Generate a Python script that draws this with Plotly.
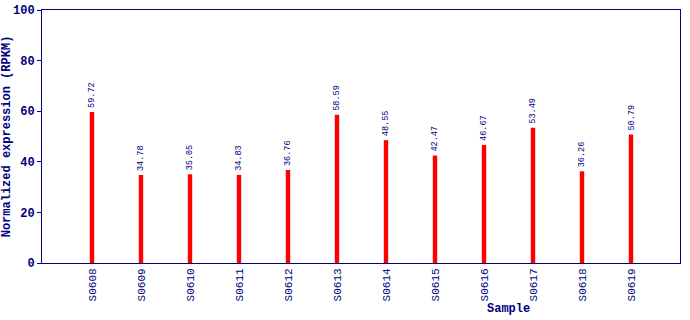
import plotly.graph_objects as go

samples = ["S0608", "S0609", "S0610", "S0611", "S0612", "S0613",
           "S0614", "S0615", "S0616", "S0617", "S0618", "S0619"]
values = [59.72, 34.78, 35.05, 34.83, 36.76, 58.59,
          48.55, 42.47, 46.67, 53.49, 36.26, 50.79]
labels = [f"{v:.2f}" for v in values]

navy = "#000080"
mono = "Liberation Mono, DejaVu Sans Mono, monospace"

xs = list(range(len(samples)))

fig = go.Figure(go.Bar(
    x=xs, y=values, width=0.09,
    marker=dict(color="#ff0000", line=dict(width=0)),
    hoverinfo="x+y",
))

annotations = [
    dict(x=x, y=v, xref="x", yref="y", text=t, showarrow=False,
         textangle=-90, xanchor="center", yanchor="bottom", yshift=2,
         font=dict(family=mono, size=8.5, color=navy))
    for x, v, t in zip(xs, values, labels)
]
annotations.append(dict(
    text="Sample", x=(508 - 42) / 638, y=-(309 - 263) / 253,
    xref="paper", yref="paper", showarrow=False,
    xanchor="center", yanchor="middle",
    font=dict(family=mono, size=12, color=navy, weight="bold"),
))

fig.update_layout(
    width=690, height=320,
    margin=dict(l=42, r=10, t=10, b=57),
    plot_bgcolor="white", paper_bgcolor="white",
    showlegend=False,
    xaxis=dict(
        range=[-1.02, 12.0], automargin=False,
        tickmode="array", tickvals=xs, ticktext=samples,
        tickangle=-90, tickfont=dict(family=mono, size=11, color=navy),
        showline=True, linecolor=navy, linewidth=1, mirror=True,
        ticks="", showgrid=False, zeroline=False,
    ),
    yaxis=dict(
        range=[0, 100], tickvals=[0, 20, 40, 60, 80, 100], automargin=False,
        tickfont=dict(family=mono, size=12, color=navy, weight="bold"),
        showline=True, linecolor=navy, linewidth=1, mirror=True,
        ticks="outside", ticklen=4, tickcolor=navy,
        showgrid=False, zeroline=False,
        title=dict(text="Normalized expression (RPKM)",
                   font=dict(family=mono, size=12, color=navy, weight="bold"),
                   standoff=5),
    ),
    annotations=annotations,
)

fig.write_html("out.html")
